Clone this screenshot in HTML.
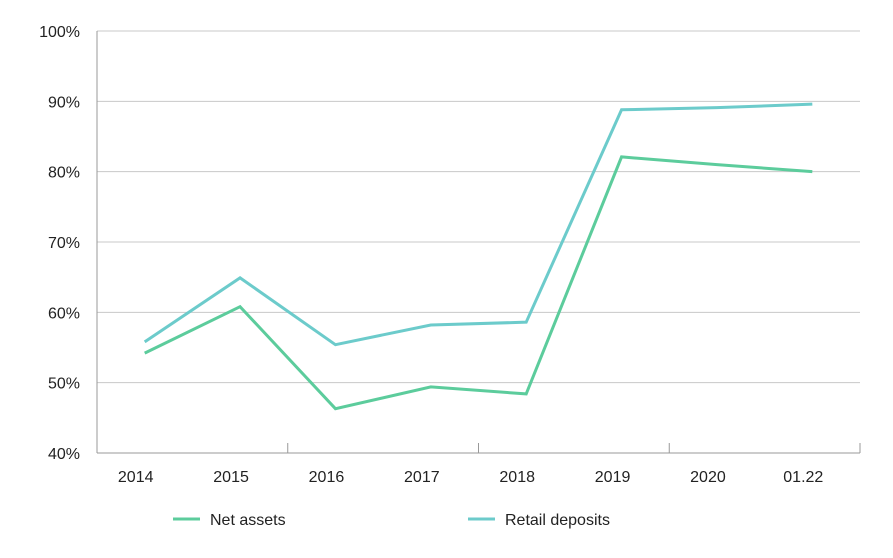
<!DOCTYPE html>
<html><head><meta charset="utf-8"><style>
body{margin:0;background:#fff;}
svg text{font-family:"Liberation Sans",sans-serif;font-size:16px;fill:#222;}
</style></head><body>
<svg id="chart" width="893" height="553"></svg>
<script>
const categories=["2014","2015","2016","2017","2018","2019","2020","01.22"];
const netAssets=[54.2,60.8,46.3,49.4,48.4,82.1,81.0,80.0];
const retailDeposits=[55.8,64.9,55.4,58.2,58.6,88.8,89.1,89.6];
const yTicks=[40,50,60,70,80,90,100];
const svg=document.getElementById('chart');
const NS='http://www.w3.org/2000/svg';
const x0=97,x1=860,y0=453,y1=31;
const bw=(x1-x0)/categories.length;
const xs=i=>x0+bw*(i+0.5);
const ys=v=>y0-(v-40)/60*(y0-y1);
function mk(t,a){const e=document.createElementNS(NS,t);for(const k in a)e.setAttribute(k,a[k]);svg.appendChild(e);return e;}
yTicks.forEach(v=>{
  const l=mk('line',{x1:x0,x2:x1,y1:ys(v),y2:ys(v),stroke:v===40?'#999':'#c8c8c8','stroke-width':1});
  
  
  const t=mk('text',{x:80,y:ys(v)+6,'text-anchor':'end'});t.textContent=v+'%';
  
  
});
const ax=mk('line',{x1:x0,x2:x0,y1:y1,y2:y0,stroke:'#999'});


for(let i=0;i<=categories.length;i+=2){
  const tk=mk('line',{x1:x0+bw*i,x2:x0+bw*i,y1:y0-10,y2:y0,stroke:'#999'});
  
  
}
categories.forEach((c,i)=>{
  const t=mk('text',{x:xs(i)-9,y:482,'text-anchor':'middle'});t.textContent=c;
  
  
});
function series(data,color,name){
  const p=mk('polyline',{points:data.map((v,i)=>xs(i)+','+ys(v)).join(' '),fill:'none',stroke:color,'stroke-width':3});
  
  
}
series(retailDeposits,'#6ccbcb','retail-deposits-line');
series(netAssets,'#5ccc9c','net-assets-line');
[[173,'#5ccc9c','Net assets','legend-net-assets'],[468,'#6ccbcb','Retail deposits','legend-retail-deposits']].forEach(([x,c,l,n])=>{
  const g=document.createElementNS(NS,'g');svg.appendChild(g);
  
  
  const ln=document.createElementNS(NS,'line');
  [['x1',x],['x2',x+27],['y1',519],['y2',519],['stroke',c],['stroke-width',3]].forEach(([k,v])=>ln.setAttribute(k,v));
  g.appendChild(ln);
  const t=document.createElementNS(NS,'text');t.setAttribute('x',x+37);t.setAttribute('y',525);t.textContent=l;g.appendChild(t);
});
</script>
</body></html>
